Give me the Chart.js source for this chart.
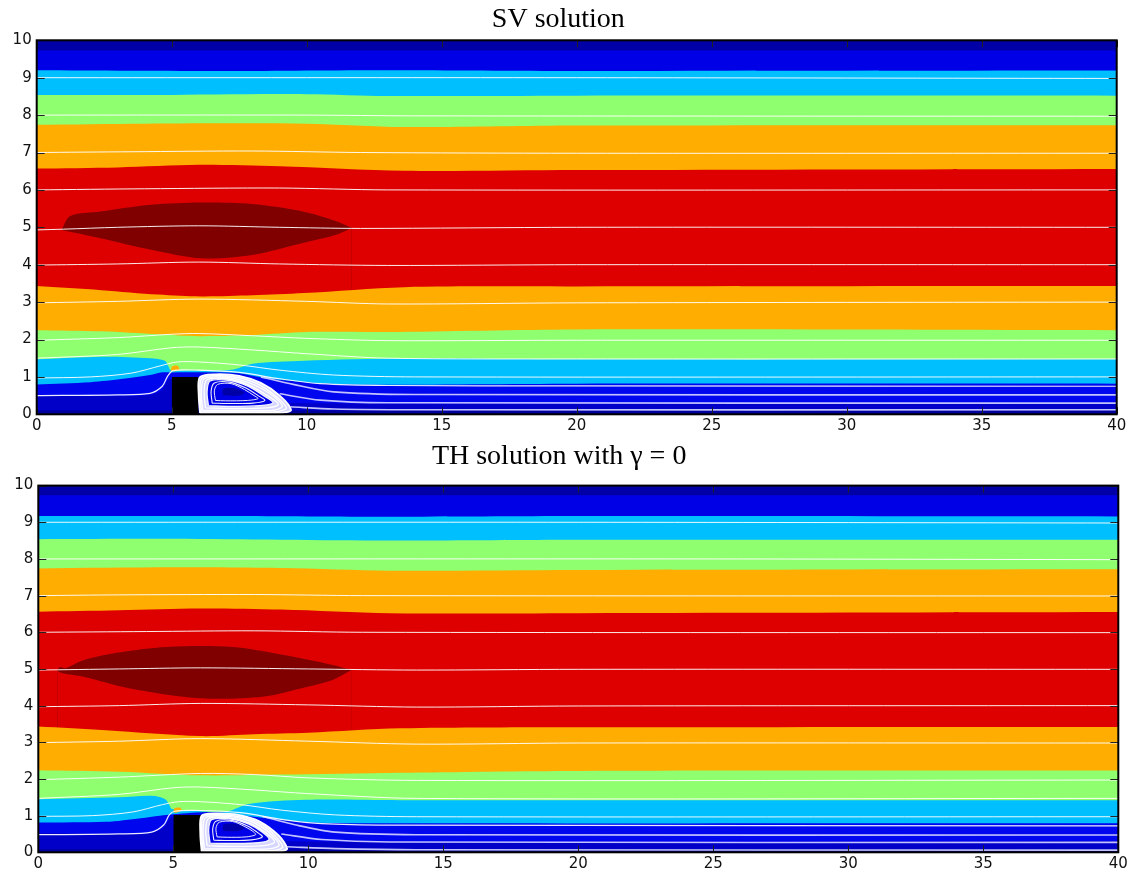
<!DOCTYPE html>
<html><head><meta charset="utf-8">
<script src="https://cdn.jsdelivr.net/npm/chart.js@4.4.1/dist/chart.umd.min.js"></script>
<style>
html,body{margin:0;padding:0;background:#fff;width:1136px;height:878px;overflow:hidden}
#c1{position:absolute;left:0;top:0;width:1136px;height:440px}
#c2{position:absolute;left:0;top:440px;width:1136px;height:438px}
</style></head>
<body>
<canvas id="c1" width="1136" height="440"></canvas>
<canvas id="c2" width="1136" height="438"></canvas>
<script>
// ---------- labels ----------
const TITLES = ['SV solution', 'TH solution with \u03B3 = 0'];
const X_TICKS = [0,5,10,15,20,25,30,35,40];
const Y_TICKS = [0,1,2,3,4,5,6,7,8,9,10];

// ---------- colours of contour levels ----------
const C_NAVY='#0000a6', C_BLUE='#0000e6', C_CYAN='#00bfff', C_GREEN='#8fff6f',
      C_ORANGE='#ffad00', C_RED='#de0000', C_DARKRED='#800000',
      C_LOWBLUE='#0006ee', C_DKBLUE='#0000c8', C_BOTNAVY='#00009c';

// ================= SV solution (top) =================
const sv_top   = [[0,10],[40,10]];
const sv_b1    = [[0,9.73],[40,9.73]];
const sv_b2    = [[0,9.2],[7,9.18],[13,9.2],[20,9.18],[40,9.19]];
const sv_b3    = [[0,8.54],[5,8.54],[10,8.56],[13,8.51],[20,8.52],[40,8.52]];
const sv_b4    = [[0,7.74],[4,7.77],[10,7.77],[13.6,7.68],[20,7.72],[40,7.73]];
const sv_b5    = [[0,6.57],[3,6.6],[6,6.67],[9,6.63],[13.6,6.51],[20,6.53],[40,6.56]];
const sv_ellU  = [[0.93,4.95],[1.24,5.3],[2.36,5.42],[4.24,5.6],[6.1,5.66],[7.98,5.62],[9.86,5.42],[11.1,5.16],[11.67,4.98]];
const sv_ellL  = [[0.93,4.93],[2.36,4.71],[4.24,4.4],[6.1,4.17],[7.98,4.26],[9.86,4.58],[11.1,4.8],[11.67,4.98]];
const sv_b6    = [[0,3.43],[2.4,3.32],[4.5,3.2],[6.1,3.15],[8,3.18],[9.9,3.24],[13.6,3.4],[20,3.42],[40,3.43]];
const sv_b7    = [[0,2.25],[2.4,2.22],[4.5,2.14],[6,2.09],[8,2.12],[10,2.2],[13,2.2],[20,2.27],[40,2.25]];
const sv_b8    = [[0,1.47],[2.4,1.54],[4.2,1.5],[4.75,1.43],[4.88,1.28],[4.97,1.18],[5.5,1.17],[6.5,1.17],[7.3,1.2],[8,1.35],[9.9,1.43],[13.6,1.49],[20,1.47],[40,1.47]];
const sv_b9    = [[0,0.8],[2,0.86],[3.2,0.95],[4.2,1.05],[4.6,1.12],[5,1.12],[7,1.12],[7.5,1.1],[8.6,0.96],[10.5,0.83],[12,0.79],[20,0.82],[40,0.82]];
const sv_b10   = [[0,0.5],[4,0.5],[4.6,0.62],[4.95,0.95],[5.5,0.5],[9,0.3],[40,0.3]];
const sv_b11   = [[0,0.1],[40,0.1]];
const sv_block = [[5,1],[6,1]];
const sv_spot  = [[4.97,1.17],[5.02,1.28],[5.22,1.3],[5.28,1.2],[5.1,1.15],[4.97,1.17]];
const sv_rOut  = [[6.05,0.03],[6.0,0.5],[6.04,0.99],[6.6,1.07],[7.5,1.03],[8.3,0.84],[9.0,0.5],[9.42,0.12],[9.1,0.04],[8,0.03],[6.05,0.03]];
const sv_r1    = [[6.1,0.07],[6.05,0.52],[6.12,0.97],[6.8,1.03],[7.7,0.94],[8.5,0.68],[9.25,0.18],[8.9,0.07],[7.8,0.06],[6.1,0.07]];
const sv_r2    = [[6.15,0.11],[6.1,0.55],[6.2,0.95],[7,0.99],[7.8,0.86],[8.6,0.57],[9.1,0.22],[8.8,0.11],[7.5,0.1],[6.15,0.11]];
const sv_r3    = [[6.25,0.17],[6.2,0.58],[6.3,0.92],[7.05,0.95],[7.8,0.8],[8.5,0.52],[8.95,0.27],[8.5,0.17],[7.3,0.15],[6.25,0.17]];
const sv_r4    = [[6.36,0.23],[6.31,0.6],[6.42,0.89],[7.1,0.91],[7.8,0.76],[8.4,0.5],[8.75,0.31],[8.25,0.23],[7.2,0.21],[6.36,0.23]];
const sv_r5    = [[6.5,0.3],[6.46,0.62],[6.58,0.84],[7.15,0.86],[7.75,0.7],[8.2,0.5],[8.45,0.37],[8.0,0.3],[7.1,0.29],[6.5,0.3]];
const sv_r6    = [[6.62,0.37],[6.58,0.63],[6.7,0.8],[7.2,0.82],[7.7,0.66],[8.05,0.5],[8.2,0.42],[7.8,0.37],[7.0,0.36],[6.62,0.37]];
const sv_eye   = [[6.9,0.5],[6.9,0.68],[7.3,0.7],[7.7,0.58],[7.5,0.5],[6.9,0.5]];
const sv_s1  = [[0,9.0],[20,9.0],[40,8.98]];
const sv_s2  = [[0,8.0],[10,8.0],[14,7.98],[40,7.97]];
const sv_s3  = [[0,7.0],[3.5,7.02],[8,7.04],[12,7.0],[20,6.98],[40,6.98]];
const sv_s4  = [[0,6.0],[4,6.03],[9,6.05],[13,6.0],[40,6.0]];
const sv_s5  = [[0,4.93],[1,4.95],[3,5.0],[6,5.04],[9,5.0],[12,4.97],[20,5.0],[40,5.0]];
const sv_s6  = [[0,3.99],[3,4.02],[6,4.07],[9,4.02],[13,3.98],[20,4.0],[40,4.0]];
const sv_s7  = [[0,2.98],[3,3.02],[6,3.08],[10,3.02],[13,2.95],[20,2.98],[40,3.0]];
const sv_s8  = [[0,1.98],[3,2.05],[5,2.14],[6,2.16],[8,2.1],[10,2.03],[13,1.97],[20,1.98],[40,1.98]];
const sv_s9  = [[0,1.5],[3,1.6],[5,1.78],[6,1.8],[8,1.72],[10,1.62],[13,1.5],[20,1.48],[40,1.48]];
const sv_s10 = [[0,0.97],[2,1.0],[3.5,1.1],[4.6,1.3],[5.2,1.4],[6,1.4],[7.5,1.32],[9,1.18],[11,1.05],[14,1.0],[40,1.0]];
const sv_s11 = [[0,0.5],[3,0.52],[4.2,0.56],[4.65,0.75],[4.85,1.02],[5.05,1.17],[6,1.18],[7.5,1.12],[9,0.95],[10.5,0.82],[13,0.77],[20,0.76],[40,0.75]];
const sv_s12 = [[8.3,1.0],[9.5,0.8],[11,0.6],[14,0.53],[40,0.52]];
const sv_s13 = [[9,0.55],[10.5,0.38],[13,0.31],[40,0.3]];
const sv_s14 = [[9.4,0.2],[11,0.14],[14,0.12],[40,0.12]];

// ================= TH solution (bottom) =================
const th_top   = [[0,10],[40,10]];
const th_b1    = [[0,9.74],[40,9.74]];
const th_b2    = [[0,9.17],[7,9.17],[13,9.15],[20,9.17],[40,9.16]];
const th_b3    = [[0,8.54],[5,8.55],[13,8.5],[20,8.52],[40,8.52]];
const th_b4    = [[0,7.74],[5,7.77],[9,7.75],[13,7.68],[20,7.7],[40,7.72]];
const th_b5    = [[0,6.56],[3,6.6],[6,6.65],[9,6.62],[13,6.52],[20,6.52],[40,6.55]];
const th_ellU  = [[0.7,4.95],[0.8,5.05],[1.0,5.02],[1.67,5.24],[2.9,5.44],[4.75,5.6],[7.2,5.6],[9.1,5.38],[10.9,5.11],[11.6,4.97]];
const th_ellL  = [[0.7,4.95],[0.9,4.88],[1.67,4.79],[3.4,4.47],[6,4.2],[8.3,4.24],[9.9,4.5],[10.9,4.7],[11.6,4.97]];
const th_b6    = [[0,3.43],[2.5,3.33],[6,3.17],[8,3.22],[10,3.26],[13.4,3.38],[20,3.41],[40,3.42]];
const th_b7    = [[0,2.24],[3,2.2],[6,2.1],[9,2.12],[13.4,2.17],[20,2.22],[40,2.23]];
const th_b8    = [[0,1.45],[3,1.5],[4.2,1.54],[4.7,1.45],[4.85,1.3],[4.95,1.18],[6,1.12],[7,1.12],[7.8,1.32],[9.9,1.43],[13.4,1.42],[20,1.42],[40,1.42]];
const th_b9    = [[0,0.81],[2.5,0.83],[3.8,0.93],[4.5,1.0],[5,1.04],[6.5,1.1],[8,0.97],[10,0.82],[13,0.79],[40,0.79]];
const th_b10   = [[0,0.52],[4,0.52],[4.6,0.64],[4.95,0.95],[5.5,0.5],[9,0.3],[40,0.3]];
const th_b11   = [[0,0.08],[40,0.08]];
const th_block = [[5,1.02],[6.05,1.02]];
const th_spot  = [[5.0,1.1],[5.05,1.2],[5.25,1.22],[5.3,1.14],[5.1,1.08],[5.0,1.1]];
const th_rOut  = [[6.05,0.02],[6.0,0.5],[6.05,1.0],[6.6,1.06],[7.5,1.01],[8.2,0.84],[8.9,0.46],[9.22,0.1],[9.0,0.03],[8,0.02],[6.05,0.02]];
const th_r1    = [[6.1,0.06],[6.05,0.52],[6.12,0.98],[6.8,1.02],[7.7,0.93],[8.5,0.64],[9.05,0.16],[8.8,0.06],[7.8,0.05],[6.1,0.06]];
const th_r2    = [[6.15,0.1],[6.1,0.55],[6.2,0.95],[7,0.98],[7.8,0.86],[8.5,0.57],[8.92,0.2],[8.6,0.1],[7.5,0.09],[6.15,0.1]];
const th_r3    = [[6.25,0.18],[6.2,0.6],[6.3,0.92],[7.05,0.94],[7.8,0.8],[8.4,0.55],[8.75,0.28],[8.35,0.18],[7.3,0.16],[6.25,0.18]];
const th_r4    = [[6.36,0.25],[6.31,0.62],[6.42,0.89],[7.1,0.91],[7.8,0.77],[8.3,0.55],[8.55,0.35],[8.15,0.26],[7.2,0.24],[6.36,0.25]];
const th_r5    = [[6.5,0.33],[6.46,0.64],[6.58,0.85],[7.15,0.87],[7.75,0.72],[8.1,0.55],[8.3,0.42],[7.9,0.34],[7.1,0.32],[6.5,0.33]];
const th_r6    = [[6.62,0.42],[6.58,0.66],[6.7,0.82],[7.2,0.84],[7.65,0.7],[7.95,0.57],[8.05,0.48],[7.7,0.42],[7.0,0.41],[6.62,0.42]];
const th_eye   = [[6.85,0.58],[6.85,0.75],[7.3,0.78],[7.65,0.66],[7.4,0.58],[6.85,0.58]];
const th_s1  = [[0,9.0],[20,9.0],[40,8.98]];
const th_s2  = [[0,8.0],[25,8.0],[40,7.98]];
const th_s3  = [[0,7.0],[3,7.02],[8,7.03],[12,7.0],[40,6.99]];
const th_s4  = [[0,6.0],[4,6.02],[8,6.04],[12,6.0],[40,5.99]];
const th_s5  = [[0,4.97],[3,5.0],[6,5.03],[10,5.0],[14,4.97],[20,4.99],[40,4.99]];
const th_s6  = [[0,3.97],[3,4.0],[6,4.06],[10,4.02],[14,3.96],[20,3.99],[40,4.0]];
const th_s7  = [[0,2.99],[3,3.03],[6,3.1],[10,3.03],[14,2.95],[20,2.98],[40,2.98]];
const th_s8  = [[0,1.98],[3,2.05],[6,2.15],[8,2.12],[10,2.03],[14,1.96],[40,1.97]];
const th_s9  = [[0,1.47],[3,1.58],[5,1.76],[6,1.78],[8,1.7],[10,1.6],[14,1.47],[40,1.47]];
const th_s10 = [[0,0.98],[2,1.0],[3.5,1.1],[4.6,1.3],[5.2,1.38],[6,1.38],[7.5,1.3],[9,1.15],[11,1.02],[14,0.97],[40,0.97]];
const th_s11 = [[0,0.48],[3,0.5],[4.2,0.55],[4.65,0.75],[4.85,1.02],[5.05,1.12],[6,1.14],[7.5,1.08],[9,0.9],[10.5,0.78],[13,0.74],[40,0.72]];
const th_s12 = [[8.3,0.98],[9.5,0.75],[11,0.55],[14,0.48],[40,0.47]];
const th_s13 = [[9,0.5],[10.5,0.35],[13,0.28],[40,0.27]];
const th_s14 = [[9.2,0.15],[11,0.1],[14,0.07],[40,0.06]];

// ---------- dataset helpers ----------
const P = a => a.map(([x,y]) => ({x, y}));
const NONE = 'rgba(0,0,0,0)';
function area(a, c, t=0.3){ return {data:P(a), showLine:true, fill:'start', backgroundColor:c, borderColor:NONE, borderWidth:0, pointRadius:0, tension:t}; }
function blob(a, c, t=0.3){ return {data:P(a), showLine:true, fill:'shape', backgroundColor:c, borderColor:NONE, borderWidth:0, pointRadius:0, tension:t}; }
function curve(a, c, w=1, t=0.3){ return {data:P(a), showLine:true, fill:false, borderColor:c, borderWidth:w, pointRadius:0, tension:t}; }

const WL = 'rgba(255,255,255,0.92)', WAKE = 'rgba(205,205,255,0.95)';

function buildSets(d){
  return [
    curve(d.s1,WL), curve(d.s2,WL), curve(d.s3,WL), curve(d.s4,WL), curve(d.s5,WL),
    curve(d.s6,WL), curve(d.s7,WL), curve(d.s8,WL), curve(d.s9,WL), curve(d.s10,WL),
    curve(d.s11,WL,1.2), curve(d.s12,WAKE,1.6), curve(d.s13,WAKE,1.6), curve(d.s14,WAKE,1.6),
    curve(d.rOut,'#ffffff',1.8), curve(d.r1,'#ffffff',1.4), curve(d.r2,'#ffffff',1.4), curve(d.r3,'#ffffff',1.3),
    curve(d.r4,'#f4f4ff',1.3), curve(d.r5,'#eeeeff',1.1), curve(d.r6,'#e8e8ff',1),
    blob(d.eye,'#0000a8'), blob(d.r4,'#0000e8'), blob(d.rOut,'#d6d6ff'),
    blob(d.spot,C_ORANGE),
    area(d.block,'#000000',0),
    area(d.b11,C_BOTNAVY), area(d.b10,C_DKBLUE), area(d.b9,C_LOWBLUE),
    area(d.b8,C_CYAN), area(d.b7,C_GREEN), area(d.b6,C_ORANGE),
    area(d.ellL,C_RED), area(d.ellU,C_DARKRED),
    area(d.b5,C_RED), area(d.b4,C_ORANGE), area(d.b3,C_GREEN),
    area(d.b2,C_CYAN), area(d.b1,C_BLUE), area(d.top,C_NAVY,0)
  ];
}

// inward ticks on all four sides + black frame
const framePlugin = {
  id: 'frame',
  afterDraw(chart){
    const {ctx, chartArea:a, scales:{x, y}} = chart;
    ctx.save();
    ctx.strokeStyle = '#222'; ctx.lineWidth = 1;
    ctx.beginPath();
    x.ticks.forEach(t => { const p = Math.round(x.getPixelForValue(t.value)) + 0.5;
      ctx.moveTo(p, a.bottom); ctx.lineTo(p, a.bottom - 7);
      ctx.moveTo(p, a.top); ctx.lineTo(p, a.top + 7); });
    y.ticks.forEach(t => { const p = Math.round(y.getPixelForValue(t.value)) + 0.5;
      ctx.moveTo(a.left, p); ctx.lineTo(a.left + 8, p);
      ctx.moveTo(a.right, p); ctx.lineTo(a.right - 8, p); });
    ctx.stroke();
    ctx.lineWidth = 2; ctx.strokeStyle = '#000';
    ctx.strokeRect(a.left, a.top, a.right - a.left, a.bottom - a.top);
    ctx.restore();
  }
};

function makeChart(id, title, sets, L){
  return new Chart(document.getElementById(id), {
    type: 'scatter',
    data: { datasets: sets },
    options: {
      responsive: false, animation: false, devicePixelRatio: 1, events: [],
      layout: { padding: { left: 0, right: L.right, top: 0, bottom: 0 } },
      plugins: {
        legend: { display: false }, tooltip: { enabled: false },
        title: { display: true, text: title, color: '#000',
          font: { family: '"Liberation Serif", "DejaVu Serif", serif', size: 28, weight: 'normal', lineHeight: 1.2 },
          padding: { top: L.tTop, bottom: L.tBot } }
      },
      scales: {
        x: { type: 'linear', min: 0, max: 40,
          afterBuildTicks: s => { s.ticks = X_TICKS.map(v => ({value: v})); },
          ticks: { color: '#111', font: { family: '"DejaVu Sans", sans-serif', size: 15 }, padding: 3, maxRotation: 0, autoSkip: false },
          grid: { display: false, drawTicks: false }, border: { display: false },
          afterFit: s => { s.height = L.xh; } },
        y: { type: 'linear', min: 0, max: 10,
          afterBuildTicks: s => { s.ticks = Y_TICKS.map(v => ({value: v})); },
          ticks: { color: '#111', font: { family: '"DejaVu Sans", sans-serif', size: 15 }, padding: 5, autoSkip: false },
          grid: { display: false, drawTicks: false }, border: { display: false },
          afterFit: s => { s.width = L.yw; } }
      }
    },
    plugins: [framePlugin]
  });
}

const SV = {top:sv_top,b1:sv_b1,b2:sv_b2,b3:sv_b3,b4:sv_b4,b5:sv_b5,ellU:sv_ellU,ellL:sv_ellL,b6:sv_b6,b7:sv_b7,b8:sv_b8,b9:sv_b9,b10:sv_b10,b11:sv_b11,
  block:sv_block,spot:sv_spot,rOut:sv_rOut,r1:sv_r1,r2:sv_r2,r3:sv_r3,r4:sv_r4,r5:sv_r5,r6:sv_r6,eye:sv_eye,
  s1:sv_s1,s2:sv_s2,s3:sv_s3,s4:sv_s4,s5:sv_s5,s6:sv_s6,s7:sv_s7,s8:sv_s8,s9:sv_s9,s10:sv_s10,s11:sv_s11,s12:sv_s12,s13:sv_s13,s14:sv_s14};
const TH = {top:th_top,b1:th_b1,b2:th_b2,b3:th_b3,b4:th_b4,b5:th_b5,ellU:th_ellU,ellL:th_ellL,b6:th_b6,b7:th_b7,b8:th_b8,b9:th_b9,b10:th_b10,b11:th_b11,
  block:th_block,spot:th_spot,rOut:th_rOut,r1:th_r1,r2:th_r2,r3:th_r3,r4:th_r4,r5:th_r5,r6:th_r6,eye:th_eye,
  s1:th_s1,s2:th_s2,s3:th_s3,s4:th_s4,s5:th_s5,s6:th_s6,s7:th_s7,s8:th_s8,s9:th_s9,s10:th_s10,s11:th_s11,s12:th_s12,s13:th_s13,s14:th_s14};

makeChart('c1', TITLES[0], buildSets(SV), { right: 19.3, tTop: 3.2, tBot: 3.5, xh: 25.7, yw: 36.7 });
makeChart('c2', TITLES[1], buildSets(TH), { right: 17.7, tTop: 0.2, tBot: 11.8, xh: 25.7, yw: 38.3 });
</script>
</body></html>
